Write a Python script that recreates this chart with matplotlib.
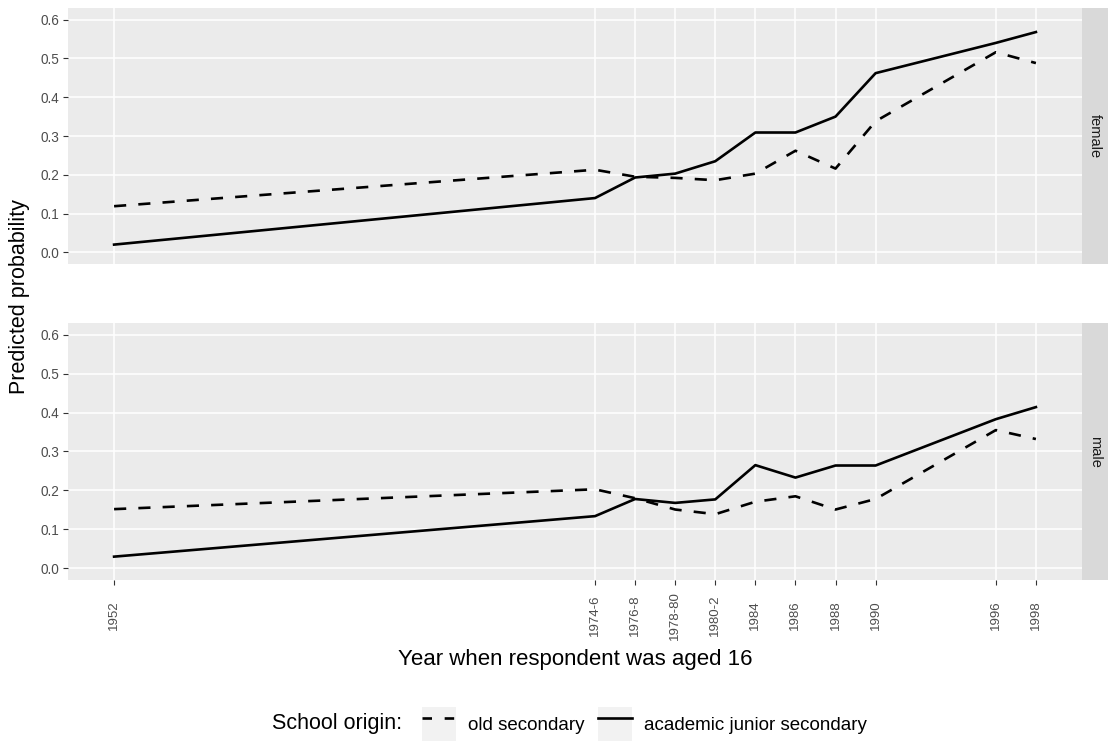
import numpy as np
import matplotlib.pyplot as plt
from matplotlib.lines import Line2D
from matplotlib.patches import Rectangle
from matplotlib.legend_handler import HandlerTuple

plt.rcParams['font.family'] = ['Liberation Sans', 'DejaVu Sans']

# data
years = [1952, 1976, 1978, 1980, 1982, 1984, 1986, 1988, 1990, 1996, 1998]
year_labels = ['1952', '1974-6', '1976-8', '1978-80', '1980-2', '1984',
               '1986', '1988', '1990', '1996', '1998']

female_old = [0.119, 0.213, 0.195, 0.192, 0.186, 0.203, 0.262, 0.216, 0.338, 0.516, 0.488]
female_acad = [0.020, 0.140, 0.193, 0.203, 0.235, 0.309, 0.309, 0.350, 0.462, 0.540, 0.568]
male_old = [0.152, 0.203, 0.180, 0.151, 0.139, 0.171, 0.185, 0.151, 0.178, 0.355, 0.332]
male_acad = [0.030, 0.134, 0.178, 0.168, 0.177, 0.265, 0.233, 0.264, 0.264, 0.383, 0.414]

panels = ['female', 'male']
old_vals = [female_old, male_old]
acad_vals = [female_acad, male_acad]

lw = 1.9
dash = (0, (4.6, 4.6))
W, H = 1112, 743

fig = plt.figure(figsize=(11.12, 7.43), dpi=100)

axes_px = [(8, 264), (323, 580)]
left, right = 68, 1082
for i, (top, bot) in enumerate(axes_px):
    ax = fig.add_axes([left / W, 1 - bot / H, (right - left) / W, (bot - top) / H])
    ax.set_facecolor('#EBEBEB')
    for s in ax.spines.values():
        s.set_visible(False)
    ax.set_xlim(1949.7, 2000.3)
    ax.set_ylim(-0.03, 0.63)
    ax.set_yticks(np.arange(0, 0.61, 0.1))
    ax.set_yticklabels(['0.0', '0.1', '0.2', '0.3', '0.4', '0.5', '0.6'])
    ax.set_xticks(years)
    ax.grid(True, color='white', linewidth=1.1)
    ax.set_axisbelow(True)
    ax.tick_params(axis='both', colors='#333333', length=3.5, width=0.8,
                   labelcolor='#4D4D4D', labelsize=9.8)
    ax.tick_params(axis='y', pad=3)
    ax.plot(years, old_vals[i], color='black', lw=lw, linestyle=dash)
    ax.plot(years, acad_vals[i], color='black', lw=lw)
    if i == 0:
        ax.tick_params(axis='x', length=0, labelbottom=False)
    else:
        ax.set_xticklabels(year_labels, rotation=90, va='center')
        ax.tick_params(axis='x', pad=22, labelsize=9.5)
    # facet strip
    strip = fig.add_axes([right / W, 1 - bot / H, 26 / W, (bot - top) / H])
    strip.set_facecolor('#D9D9D9')
    strip.set_xticks([])
    strip.set_yticks([])
    for s in strip.spines.values():
        s.set_visible(False)
    strip.text(0.5, 0.5, panels[i], rotation=-90, ha='center', va='center',
               fontsize=10.5, color='#1A1A1A', transform=strip.transAxes)

fig.text(20 / W, 1 - 297 / H, 'Predicted probability', rotation=90,
         ha='center', va='center', fontsize=15.5, color='black')
fig.text(575 / W, 1 - 660 / H, 'Year when respondent was aged 16',
         ha='center', va='center', fontsize=16, color='black')

fig.text(272 / W, 1 - 724 / H, 'School origin:', ha='left', va='center',
         fontsize=15.5, color='black')

bg = Rectangle((0, 0), 1, 1, facecolor='#F2F2F2', edgecolor='none')
bg2 = Rectangle((0, 0), 1, 1, facecolor='#F2F2F2', edgecolor='none')
h_old = Line2D([], [], color='black', lw=lw, linestyle=(0, (3.6, 4.8)))
h_acad = Line2D([], [], color='black', lw=lw)
fig.legend([(bg, h_old), (bg2, h_acad)], ['old secondary', 'academic junior secondary'],
           handler_map={tuple: HandlerTuple(ndivide=1, pad=0)},
           loc='center left', bbox_to_anchor=(422 / W, 1 - 724 / H), ncol=2,
           frameon=False, fontsize=13.5, handlelength=1.8, handleheight=2.4,
           handletextpad=0.64, columnspacing=0.75, borderpad=0, borderaxespad=0)

fig.savefig('out.png', dpi=100)
